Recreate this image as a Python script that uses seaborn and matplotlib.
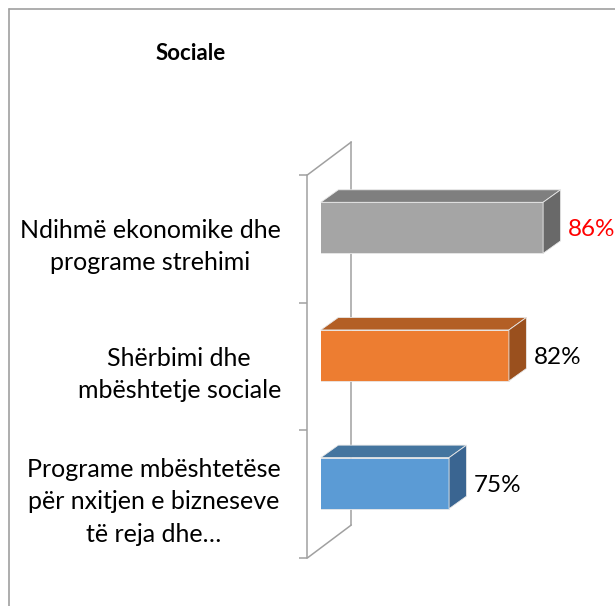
import matplotlib
matplotlib.use("Agg")
import matplotlib.pyplot as plt
import seaborn as sns
import pandas as pd
from matplotlib.transforms import ScaledTranslation, Bbox, TransformedBbox, IdentityTransform
from matplotlib.patches import Polygon
from matplotlib.lines import Line2D

# Chart data
title = "Sociale"
categories = [
    "Ndihmë ekonomike dhe\nprograme strehimi",
    "Shërbimi dhe\nmbështetje sociale",
    "Programe mbështetëse\npër nxitjen e bizneseve\ntë reja dhe…",
]
values = [86, 82, 75]
value_labels = ["86%", "82%", "75%"]
front_colors = ["#A5A5A5", "#ED7D31", "#5B9BD5"]
top_colors = ["#7F7F7F", "#B35F25", "#44759F"]
side_colors = ["#696969", "#9A501E", "#3A6591"]
label_colors = ["#FF0000", "#000000", "#000000"]
x_range = (60, 90)

DPI = 100
sns.set_theme(style="white")
plt.rcParams["font.family"] = ["Lato", "DejaVu Sans"]

fig = plt.figure(figsize=(6.15, 6.06), dpi=DPI)
W, H = 615, 606
# axes = front plane of the 3D box
ax_left, ax_right, ax_top, ax_bottom = 307.3, 563.8, 175, 558
ax = fig.add_axes([ax_left / W, (H - ax_bottom) / H,
                   (ax_right - ax_left) / W, (ax_bottom - ax_top) / H])
ax.set_facecolor("none")

df = pd.DataFrame({"category": categories, "value": values})
sns.barplot(data=df, x="value", y="category", hue="category",
            palette=front_colors, width=0.4, orient="h", legend=False,
            saturation=1, ax=ax, zorder=3)
ax.set_xlim(*x_range)
ax.set_ylim(2.5, -0.5)

# oblique projection offsets (pixels)
front_dx, front_dy = 13.5, 11.0     # bar front face behind the front plane
depth_dx, depth_dy = 17.5, 12.5     # bar depth
wall_dx, wall_dy = 44.0, 33.0       # full floor depth

shift = ScaledTranslation(front_dx / DPI, front_dy / DPI, fig.dpi_scale_trans)
clip = TransformedBbox(Bbox([[0, 0], [1, 1]]), ax.transAxes + shift)

fig.canvas.draw()
xmin = ax.get_xlim()[0]
for i, patch in enumerate(ax.patches):
    patch.set_transform(ax.transData + shift)
    patch.set_clip_box(clip)
    patch.set_edgecolor("#E8E8E8")
    patch.set_linewidth(0.6)
    y0 = patch.get_y()
    y1 = y0 + patch.get_height()
    x1 = patch.get_x() + patch.get_width()
    (px0, py_top), (px1, py_bot) = ax.transData.transform([(xmin, y0), (x1, y1)])
    px0 += front_dx; px1 += front_dx
    py_top += front_dy; py_bot += front_dy
    top = Polygon([(px0, py_top), (px1, py_top),
                   (px1 + depth_dx, py_top + depth_dy), (px0 + depth_dx, py_top + depth_dy)],
                  closed=True, transform=IdentityTransform(), facecolor=top_colors[i],
                  edgecolor="#E8E8E8", linewidth=0.6, zorder=3, clip_on=False)
    side = Polygon([(px1, py_top), (px1 + depth_dx, py_top + depth_dy),
                    (px1 + depth_dx, py_bot + depth_dy), (px1, py_bot)],
                   closed=True, transform=IdentityTransform(), facecolor=side_colors[i],
                   edgecolor="#E8E8E8", linewidth=0.6, zorder=3, clip_on=False)
    ax.add_patch(top)
    ax.add_patch(side)
    # value label next to the bar's side face
    lab_shift = ScaledTranslation((front_dx + depth_dx + 7) / DPI, (front_dy - 2) / DPI,
                                  fig.dpi_scale_trans)
    ax.text(x1, (y0 + y1) / 2, value_labels[i], transform=ax.transData + lab_shift,
            ha="left", va="center", fontsize=17.5, color=label_colors[i], clip_on=False)

# walls: front edge, back edge and floor diagonals
line_kw = dict(color="#A0A0A0", linewidth=1.1, zorder=1, clip_on=False)
(fx0, fy_bot), (_, fy_top) = ax.transAxes.transform([(0, 0), (0, 1)])
ax.add_line(Line2D([fx0, fx0], [fy_bot, fy_top], transform=IdentityTransform(), **line_kw))
ax.add_line(Line2D([fx0 + wall_dx] * 2, [fy_bot + wall_dy, fy_top + wall_dy],
                   transform=IdentityTransform(), **line_kw))
ax.add_line(Line2D([fx0, fx0 + wall_dx], [fy_top, fy_top + wall_dy],
                   transform=IdentityTransform(), **line_kw))
ax.add_line(Line2D([fx0, fx0 + wall_dx], [fy_bot, fy_bot + wall_dy],
                   transform=IdentityTransform(), **line_kw))

for s in ax.spines.values():
    s.set_visible(False)
ax.set_xlabel("")
ax.set_ylabel("")
ax.set_xticks([])
ax.set_yticks([-0.5, 0.5, 1.5, 2.5], minor=True)
ax.tick_params(axis="y", which="minor", length=6, width=1.1, color="#A0A0A0", left=True)
ax.tick_params(axis="y", which="major", length=0, pad=19, labelsize=18, labelcolor="#000000")
for t in ax.get_yticklabels():
    t.set_multialignment("center")
    t.set_linespacing(1.5)
    t.set_transform(t.get_transform() + ScaledTranslation(0, -1 / DPI, fig.dpi_scale_trans))

fig.text(191 / W, 1 - 53 / H, title, ha="center", va="center",
         fontsize=16, fontweight="bold", color="#000000")

# outer chart border (top and left edges)
fig.add_artist(Line2D([9 / W, 1], [1 - 9 / H, 1 - 9 / H], transform=fig.transFigure,
                      color="#A0A0A0", linewidth=1.2))
fig.add_artist(Line2D([9 / W, 9 / W], [0, 1 - 9 / H], transform=fig.transFigure,
                      color="#A0A0A0", linewidth=1.2))

fig.savefig("out.png", dpi=DPI, facecolor="white")
